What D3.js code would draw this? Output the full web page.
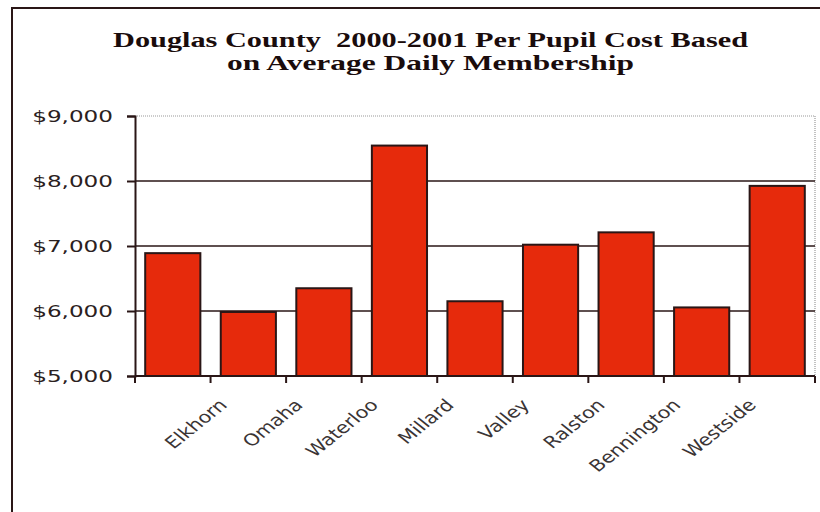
<!DOCTYPE html>
<html>
<head>
<meta charset="utf-8">
<script src="https://cdn.jsdelivr.net/npm/d3@7"></script>
<style>
  html, body { margin: 0; padding: 0; background: #ffffff; }
  svg { display: block; }
</style>
</head>
<body>
<svg id="chart" width="820" height="512"></svg>
<script>
// ---- data ----
const titleLines = ["Douglas County  2000-2001 Per Pupil Cost Based", "on Average Daily Membership"];
const categories = ["", "Elkhorn", "Omaha", "Waterloo", "Millard", "Valley", "Ralston", "Bennington", "Westside"];
const costs = [6890, 5985, 6350, 8545, 6150, 7020, 7210, 6055, 7925];
const yTicks = [5000, 6000, 7000, 8000, 9000];
const yDomain = [5000, 9000];

// ---- layout ----
const W = 820, H = 512;
const plot = { left: 135, right: 815, top: 116, bottom: 376 };
const ink = "#2a1616";
const stretch = 1.4;
const labelStretch = 1.25;

const svg = d3.select("#chart");

// outer frame
svg.append("rect")
  .attr("x", 12).attr("y", 8)
  .attr("width", 840).attr("height", 540)
  .attr("fill", "none").attr("stroke", ink).attr("stroke-width", 2);

// title
const title = svg.append("g");
const titleWidths = [635, 407];
titleLines.forEach((t, i) => {
  title.append("text")
    .attr("x", 430.5).attr("y", 47 + i * 23)
    .attr("text-anchor", "middle")
    .attr("font-family", "Liberation Serif, serif")
    .attr("font-weight", "bold")
    .attr("font-size", 22)
    .attr("fill", "#1a0c0c")
    .attr("textLength", titleWidths[i])
    .attr("lengthAdjust", "spacingAndGlyphs")
    .style("white-space", "pre")
    .text(t);
});

// scales
const x = d3.scaleBand()
  .domain(categories)
  .range([plot.left, plot.right])
  .paddingInner(0.27)
  .paddingOuter(0.135);

const y = d3.scaleLinear()
  .domain(yDomain)
  .range([plot.bottom, plot.top]);

// plot area top/right border (gray dotted)
svg.append("line")
  .attr("x1", plot.left).attr("x2", plot.right)
  .attr("y1", y(yDomain[1])).attr("y2", y(yDomain[1]))
  .attr("stroke", "#9a9a9a").attr("stroke-width", 1.2).attr("stroke-dasharray", "1,1");
svg.append("line")
  .attr("x1", plot.right).attr("x2", plot.right)
  .attr("y1", plot.top).attr("y2", plot.bottom)
  .attr("stroke", "#9a9a9a").attr("stroke-width", 1.2).attr("stroke-dasharray", "1,1");

// gridlines
svg.append("g")
  .selectAll("line")
  .data(yTicks.filter(v => v > yDomain[0] && v < yDomain[1]))
  .join("line")
  .attr("x1", plot.left).attr("x2", plot.right)
  .attr("y1", d => y(d)).attr("y2", d => y(d))
  .attr("stroke", ink).attr("stroke-width", 1.6);

// bars
svg.append("g")
  .selectAll("rect")
  .data(costs)
  .join("rect")
  .attr("x", (d, i) => x(categories[i]))
  .attr("width", x.bandwidth())
  .attr("y", d => y(d))
  .attr("height", d => y(yDomain[0]) - y(d))
  .attr("fill", "#e62a0c")
  .attr("stroke", ink)
  .attr("stroke-width", 2);

// y axis
const yAxis = svg.append("g")
  .attr("transform", `translate(${plot.left},0)`)
  .call(d3.axisLeft(y).tickValues(yTicks).tickSize(8).tickPadding(0).tickFormat(d3.format("$,")));
yAxis.select(".domain").attr("stroke", ink).attr("stroke-width", 2);
yAxis.selectAll(".tick line").attr("stroke", ink).attr("stroke-width", 2);
yAxis.selectAll(".tick text")
  .attr("x", 0)
  .attr("dy", "0.36em")
  .attr("font-family", "DejaVu Sans, Verdana, sans-serif")
  .attr("font-size", 16.5)
  .attr("fill", "#2a2020")
  .attr("text-anchor", "end")
  .attr("transform", `translate(-22,0) scale(${stretch},1)`);

// x axis line + boundary ticks
const step = x.step();
const boundaries = categories.map(c => x(c) - step * x.paddingInner() / 2).concat([plot.right]);
svg.append("line")
  .attr("x1", plot.left).attr("x2", plot.right)
  .attr("y1", plot.bottom).attr("y2", plot.bottom)
  .attr("stroke", ink).attr("stroke-width", 2);
svg.append("g")
  .selectAll("line")
  .data(boundaries)
  .join("line")
  .attr("x1", d => d).attr("x2", d => d)
  .attr("y1", plot.bottom).attr("y2", plot.bottom + 7)
  .attr("stroke", ink).attr("stroke-width", 2);

// x labels (rotated, slightly stretched like the reference)
svg.append("g")
  .selectAll("text")
  .data(categories)
  .join("text")
  .attr("transform", d => `translate(${x(d) + x.bandwidth() / 2 - 20},406) scale(${labelStretch},1) rotate(-45)`)
  .attr("text-anchor", "end")
  .attr("font-family", "DejaVu Sans, Verdana, sans-serif")
  .attr("font-size", 16.5)
  .attr("fill", "#3a3434")
  .text(d => d);
</script>
</body>
</html>
